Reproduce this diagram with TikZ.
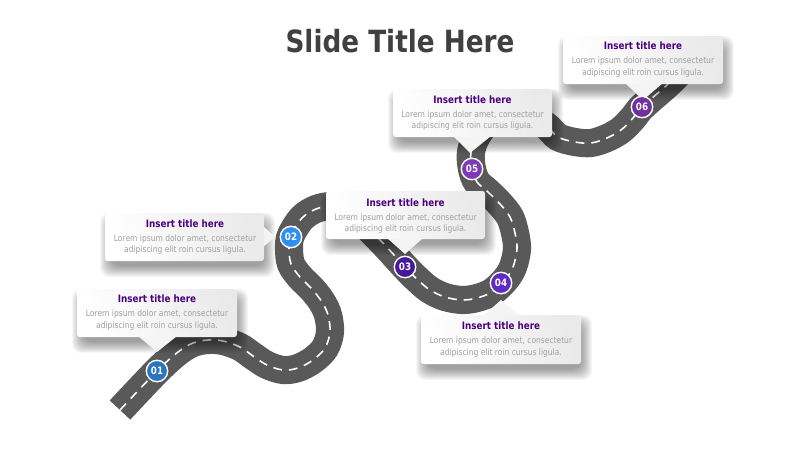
\documentclass[tikz,border=0pt]{standalone}
\usepackage{fontspec}
\setmainfont[FakeStretch=0.86]{DejaVu Sans}
\usepackage{xcolor}
\usetikzlibrary{positioning}
\definecolor{roadgrey}{HTML}{595959}
\definecolor{titlegrey}{HTML}{404040}
\definecolor{bodygrey}{HTML}{A0A0A0}
\definecolor{headviolet}{HTML}{4B0082}
\definecolor{boxgrey}{HTML}{EAEAEA}
\definecolor{pinA}{HTML}{2B74C0}
\definecolor{pinB}{HTML}{2F8FEF}
\definecolor{pinC}{HTML}{46189B}
\definecolor{pinD}{HTML}{5F2BC0}
\definecolor{pinE}{HTML}{7F38B8}
\definecolor{pinF}{HTML}{7030A0}
\tikzset{
	boxfill/.style={left color=white,right color=boxgrey,shading angle=110},
	calltext/.style={align=center,inner sep=0pt,text=bodygrey,font=\fontsize{5}{6.5}\selectfont},
	pinmark/.style={circle,draw=white,line width=0.8pt,minimum size=12.2pt,inner sep=0pt,text=white,font=\fontsize{5.8}{6}\selectfont\bfseries},
}
\newcommand{\calltitle}[1]{{\fontsize{5.8}{6.5}\selectfont\bfseries\textcolor{headviolet}{#1}}}
% x1,y1,x2,y2, then the pointer as three corners
\newcommand{\callbox}[7]{
	\foreach \r in {8,7,6,5,4,3,2,1,0,-1,-2,-3}{
		\fill [black,opacity=0.035,rounded corners=5pt] (#1-\r+3,#2-\r+8) rectangle (#3+\r+3,#4+\r+8);
	}
	\fill [boxgrey!55!white] #5 -- #6 -- #7 -- cycle;
	\shade [boxfill] [rounded corners=1.5pt] (#1,#2) rectangle (#3,#4);
}
\begin{document}
\begin{tikzpicture}[x=0.02cm,y=-0.02cm]
	\useasboundingbox (0,0) rectangle (800,450);
	\fill [white] (0,0) rectangle (800,450);

	\node (slidetitle) [text=titlegrey,font=\fontsize{17.4}{20}\selectfont\bfseries] at (400,41) {Slide Title Here};

	% road
	\def\roadpts{(120,410) (157,371) (178,352) (193,343) (208,340) (223,341) (240,347) (253,356) (267,365) (283,370) (298,368) (313,360) (325,348) (330,332) (328,315) (322,302) (312,289) (300,277) (291,264) (289,248) (291,235) (302,218) (316,209) (332,206) (348,210) (362,222) (383,243) (405,267) (418,280) (430,290) (445,297) (462,300) (477,298) (492,292) (505,280) (513,267) (517,249) (515,233) (510,217) (500,204) (488,192) (477,182) (472,169) (471,152) (478,134) (495,116) (520,112) (545,125) (558,137) (575,142) (591,143) (607,138) (621,130) (633,118) (642,107) (667,85) (680,72)}
	\draw [roadgrey,line width=16pt] plot [smooth,tension=0.55] coordinates {\roadpts};
	\draw [white,line width=0.9pt,dash pattern=on 5pt off 3.9pt] plot [smooth,tension=0.55] coordinates {\roadpts};

	% callouts
	\callbox{77}{289}{237}{337}{(138,336)}{(177,336)}{(157,352)}
	\node (box1) [calltext] at (157,312.5) {\calltitle{Insert title here}\\[1.5pt]Lorem ipsum dolor amet, consectetur\\adipiscing elit roin cursus ligula.};

	\callbox{105}{213}{264}{261}{(263,226)}{(263,247)}{(275,237)}
	\node (box2) [calltext] at (185,237) {\calltitle{Insert title here}\\[1.5pt]Lorem ipsum dolor amet, consectetur\\adipiscing elit roin cursus ligula.};

	\callbox{326}{191}{485}{239}{(387,238)}{(423,238)}{(405,254)}
	\node (box3) [calltext] at (405.5,216) {\calltitle{Insert title here}\\[1.5pt]Lorem ipsum dolor amet, consectetur\\adipiscing elit roin cursus ligula.};

	\callbox{421}{315}{581}{364}{(483,316)}{(520,316)}{(501,300)}
	\node (box4) [calltext] at (501,339.5) {\calltitle{Insert title here}\\[1.5pt]Lorem ipsum dolor amet, consectetur\\adipiscing elit roin cursus ligula.};

	\callbox{393}{89}{552}{137}{(453,136)}{(491,136)}{(470,153)}
	\node (box5) [calltext] at (472.5,113) {\calltitle{Insert title here}\\[1.5pt]Lorem ipsum dolor amet, consectetur\\adipiscing elit roin cursus ligula.};

	\callbox{563}{36}{723}{84}{(625,83)}{(663,83)}{(643,100)}
	\node (box6) [calltext] at (643,59.5) {\calltitle{Insert title here}\\[1.5pt]Lorem ipsum dolor amet, consectetur\\adipiscing elit roin cursus ligula.};

	% pins
	\node (pin1) [pinmark,fill=pinA] at (157,371) {01};
	\node (pin2) [pinmark,fill=pinB] at (291,237) {02};
	\node (pin3) [pinmark,fill=pinC] at (405,267) {03};
	\node (pin4) [pinmark,fill=pinD] at (501,283) {04};
	\node (pin5) [pinmark,fill=pinE] at (472,169) {05};
	\node (pin6) [pinmark,fill=pinF] at (642,107) {06};
\end{tikzpicture}
\end{document}
